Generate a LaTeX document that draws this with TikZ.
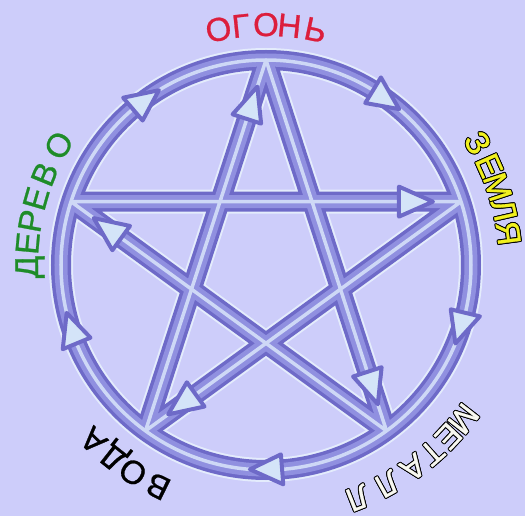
\documentclass[tikz,border=0pt]{standalone}
\usepackage{fontspec}
\newfontfamily\labelfont[FakeBold=0.8]{Liberation Sans}
\usetikzlibrary{calc}

\definecolor{bgl}{RGB}{205,205,250}
\definecolor{tubehalo}{RGB}{228,236,252}
\definecolor{tubeedge}{RGB}{110,106,200}
\definecolor{tubemid}{RGB}{144,144,224}
\definecolor{tubecore}{RGB}{206,216,246}
\definecolor{arrowfill}{RGB}{212,228,248}
\definecolor{firec}{RGB}{220,30,60}
\definecolor{earthc}{RGB}{240,240,30}
\definecolor{metalc}{RGB}{248,248,240}
\definecolor{woodc}{RGB}{30,140,40}

\begin{document}
\begin{tikzpicture}[x=1pt, y=1pt,
  letter/.style={font=\labelfont\fontsize{33}{33}\selectfont, inner sep=0pt, anchor=base},
  arrowhead/.style={fill=arrowfill, draw=tubeedge, line width=4, line join=round}]

% ---- background ------------------------------------------------------------
\fill[bgl] (-266,-251) rectangle (259,265);
\useasboundingbox (-266,-251) rectangle (259,265);

% ---- star points on the ring -------------------------------------------------
\foreach \n/\a in {fire/90, earth/18, metal/-54, water/-126, wood/162}
  \coordinate (\n) at (\a:205);

% ---- tubes: ring and pentagram, drawn layer by layer -------------------------
\foreach \w/\c in {24/tubehalo, 20/tubeedge, 13/tubemid, 3.5/tubecore} {
  \draw[\c, line width=\w] (0,0) circle (205);
  \begin{scope}
    \clip (0,0) circle (205);
    \draw[\c, line width=\w] (wood) -- (earth) -- (water) -- (fire) -- (metal) -- cycle;
  \end{scope}
}

% ---- arrowheads on the ring (clockwise) ---------------------------------------
\foreach \m in {126, 54, -18, -90, -162}
  \filldraw[arrowhead] (\m+4.5:190) -- (\m-4.5:205) -- (\m+4.5:220) -- cycle;

% ---- arrowheads on the star ----------------------------------------------------
\foreach \src/\dst in {wood/earth, earth/water, water/fire, fire/metal, metal/wood}
  \filldraw[arrowhead] ($(\dst)!62pt!(\src)!15pt!90:(\src)$)
    -- ($(\dst)!28pt!(\src)$)
    -- ($(\dst)!62pt!(\src)!15pt!-90:(\src)$) -- cycle;

% ---- labels round the ring -------------------------------------------------------
\foreach \a/\ch [count=\i] in {101.4/О, 96/Г, 90/О, 84.4/Н, 78.1/Ь}
  \node[letter, text=firec, rotate=\a-90] (fire\i) at (\a:229) {\ch};

\foreach \a/\ch [count=\i] in {30/З, 24/Е, 18.6/М, 13/Л, 7.5/Я} {
  \foreach \dx/\dy in {1/0, -1/0, 0/1, 0/-1, .7/.7, -.7/.7, .7/-.7, -.7/-.7}
    \node[letter, text=black, xshift=\dx, yshift=\dy, rotate=\a-90] at (\a:233) {\ch};
  \node[letter, text=earthc, rotate=\a-90] (earth\i) at (\a:233) {\ch};
}

\foreach \a/\ch [count=\i] in {-37.9/М, -43.2/Е, -48.5/Т, -54/А, -61/Л, -68.5/Л} {
  \foreach \dx/\dy in {1/0, -1/0, 0/1, 0/-1, .7/.7, -.7/.7, .7/-.7, -.7/-.7}
    \node[letter, text=black, xshift=\dx, yshift=\dy, rotate=\a-90] at (\a:239) {\ch};
  \node[letter, text=metalc, rotate=\a-90] (metal\i) at (\a:239) {\ch};
}

\foreach \a/\ch [count=\i] in {-116/В, -122.7/О, -128.3/Д, -134.5/А}
  \node[letter, text=black, rotate=\a-90] (water\i) at (\a:235) {\ch};

\foreach \a/\ch [count=\i] in {180.5/Д, 174.8/Е, 169.4/Р, 163.9/Е, 157.7/В, 150/О}
  \node[letter, text=woodc, rotate=\a-90] (wood\i) at (\a:228) {\ch};

\end{tikzpicture}
\end{document}
